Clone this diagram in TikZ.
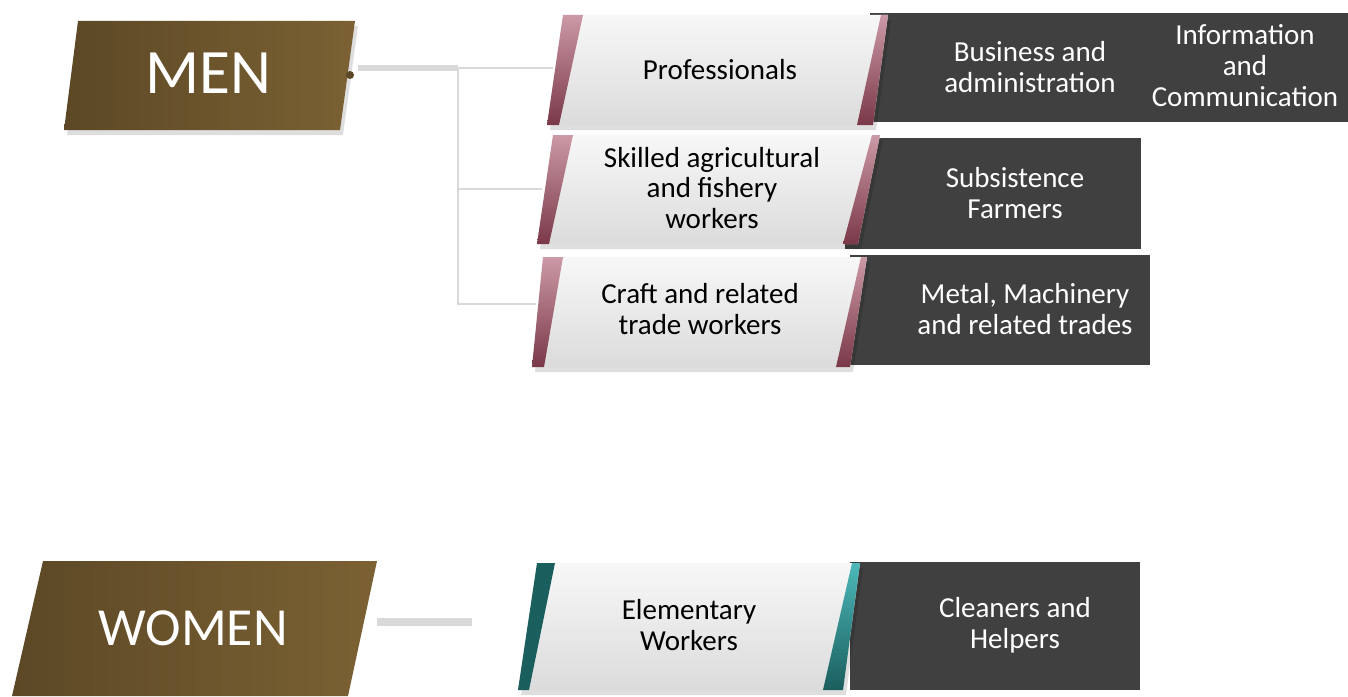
\documentclass[tikz,border=0pt]{standalone}
\usepackage{fontspec}
\setmainfont{Carlito}
\usetikzlibrary{positioning}

\definecolor{headdark}{HTML}{5C4826}
\definecolor{headlight}{HTML}{7B6133}
\definecolor{slate}{HTML}{404040}
\definecolor{rosedark}{HTML}{7A3848}
\definecolor{roselight}{HTML}{CC99A6}
\definecolor{tealdark}{HTML}{1B5E5E}
\definecolor{teallight}{HTML}{4DB8B8}

\begin{document}
\begin{tikzpicture}[x=0.02cm,y=-0.02cm,
  head/.style={left color=headdark,right color=headlight},
  lightbox/.style={top color=black!3,bottom color=black!14},
  castshadow/.style={fill=black,opacity=.13,shift={(3,5)}},
  rose/.style={top color=roselight,bottom color=rosedark},
  teal/.style={top color=teallight,bottom color=tealdark},
  darkbox/.style={fill=slate},
  lab/.style={font=\fontsize{16.5}{17.6}\selectfont,align=center},
  wlab/.style={lab,text=white},
  headlab/.style={text=white},
  link/.style={draw=black!15,line width=1.1pt},
  thicklink/.style={draw=black!15,line width=3.4pt}]
\useasboundingbox (0,0) rectangle (1348,696);

% heads
\fill[castshadow] (78,21) -- (355,21) -- (340,130) -- (64,130) -- cycle;
\shade[head] (78,21) -- (355,21) -- (340,130) -- (64,130) -- cycle;
\node[headlab,font=\fontsize{36}{40}\selectfont] (men) at (208,73) {MEN};
\fill[headdark] (350,75) circle (4);

\shade[head] (43,561) -- (377,561) -- (348,696) -- (12,696) -- cycle;
\node[headlab,font=\fontsize{30.5}{36}\selectfont] (women) at (193,628) {WOMEN};

% professionals
\fill[darkbox] (870,13) rectangle (1348,122);
\fill[castshadow] (563,15) -- (888,15) -- (873,125) -- (547,125) -- cycle;
\shade[lightbox] (563,15) -- (888,15) -- (873,125) -- (547,125) -- cycle;
\shade[rose] (563,15) -- (583,15) -- (559,125) -- (547,125) -- cycle;
\shade[rose] (881,15) -- (888,15) -- (873,125) -- (857,125) -- cycle;
\node[lab] (prof) at (720,70) {Professionals};
\node[wlab] (busi) at (1030,67) {Business and\\administration};
\node[wlab] (info) at (1245,66) {Information\\and\\Communication};

% skilled agricultural
\fill[darkbox] (845,138) rectangle (1141,249);
\fill[castshadow] (553,135) -- (880,135) -- (858,244) -- (537,244) -- cycle;
\shade[lightbox] (553,135) -- (880,135) -- (858,244) -- (537,244) -- cycle;
\shade[rose] (553,135) -- (573,135) -- (549,244) -- (537,244) -- cycle;
\shade[rose] (872,135) -- (880,135) -- (858,244) -- (843,244) -- cycle;
\node[lab] (agri) at (712,188) {Skilled agricultural\\and fishery\\workers};
\node[wlab] (farm) at (1015,193) {Subsistence\\Farmers};

% craft
\fill[darkbox] (850,255) rectangle (1150,365);
\fill[castshadow] (543,257) -- (867,257) -- (850,367) -- (532,367) -- cycle;
\shade[lightbox] (543,257) -- (867,257) -- (850,367) -- (532,367) -- cycle;
\shade[rose] (543,257) -- (563,257) -- (544,367) -- (532,367) -- cycle;
\shade[rose] (861,257) -- (867,257) -- (850,367) -- (836,367) -- cycle;
\node[lab] (craft) at (700,309) {Craft and related\\trade workers};
\node[wlab] (metal) at (1025,309) {Metal, Machinery\\and related trades};

% elementary
\fill[darkbox] (850,562) rectangle (1140,690);
\fill[castshadow] (537,563) -- (860,563) -- (843,690) -- (518,690) -- cycle;
\shade[lightbox] (537,563) -- (860,563) -- (843,690) -- (518,690) -- cycle;
\fill[tealdark] (537,563) -- (555,563) -- (529,690) -- (518,690) -- cycle;
\shade[teal] (852,563) -- (860,563) -- (843,690) -- (823,690) -- cycle;
\node[lab] (elem) at (689,625) {Elementary\\Workers};
\node[wlab] (clean) at (1015,625) {Cleaners and\\Helpers};

% links
\coordinate (menR) at (358,68);
\coordinate (fork) at (458,68);
\coordinate (profL) at (553,68);
\coordinate (agriL) at (542,189);
\coordinate (craftL) at (536,304);
\coordinate (womenR) at (377,622);
\coordinate (elemL) at (472,622);
\draw[thicklink] (menR) -- (fork);
\draw[link] (fork) -- (profL);
\draw[link] (fork) |- (agriL);
\draw[link] (fork) |- (craftL);
\draw[line width=4.5pt,draw=black!15] (womenR) -- (elemL);
\end{tikzpicture}
\end{document}
